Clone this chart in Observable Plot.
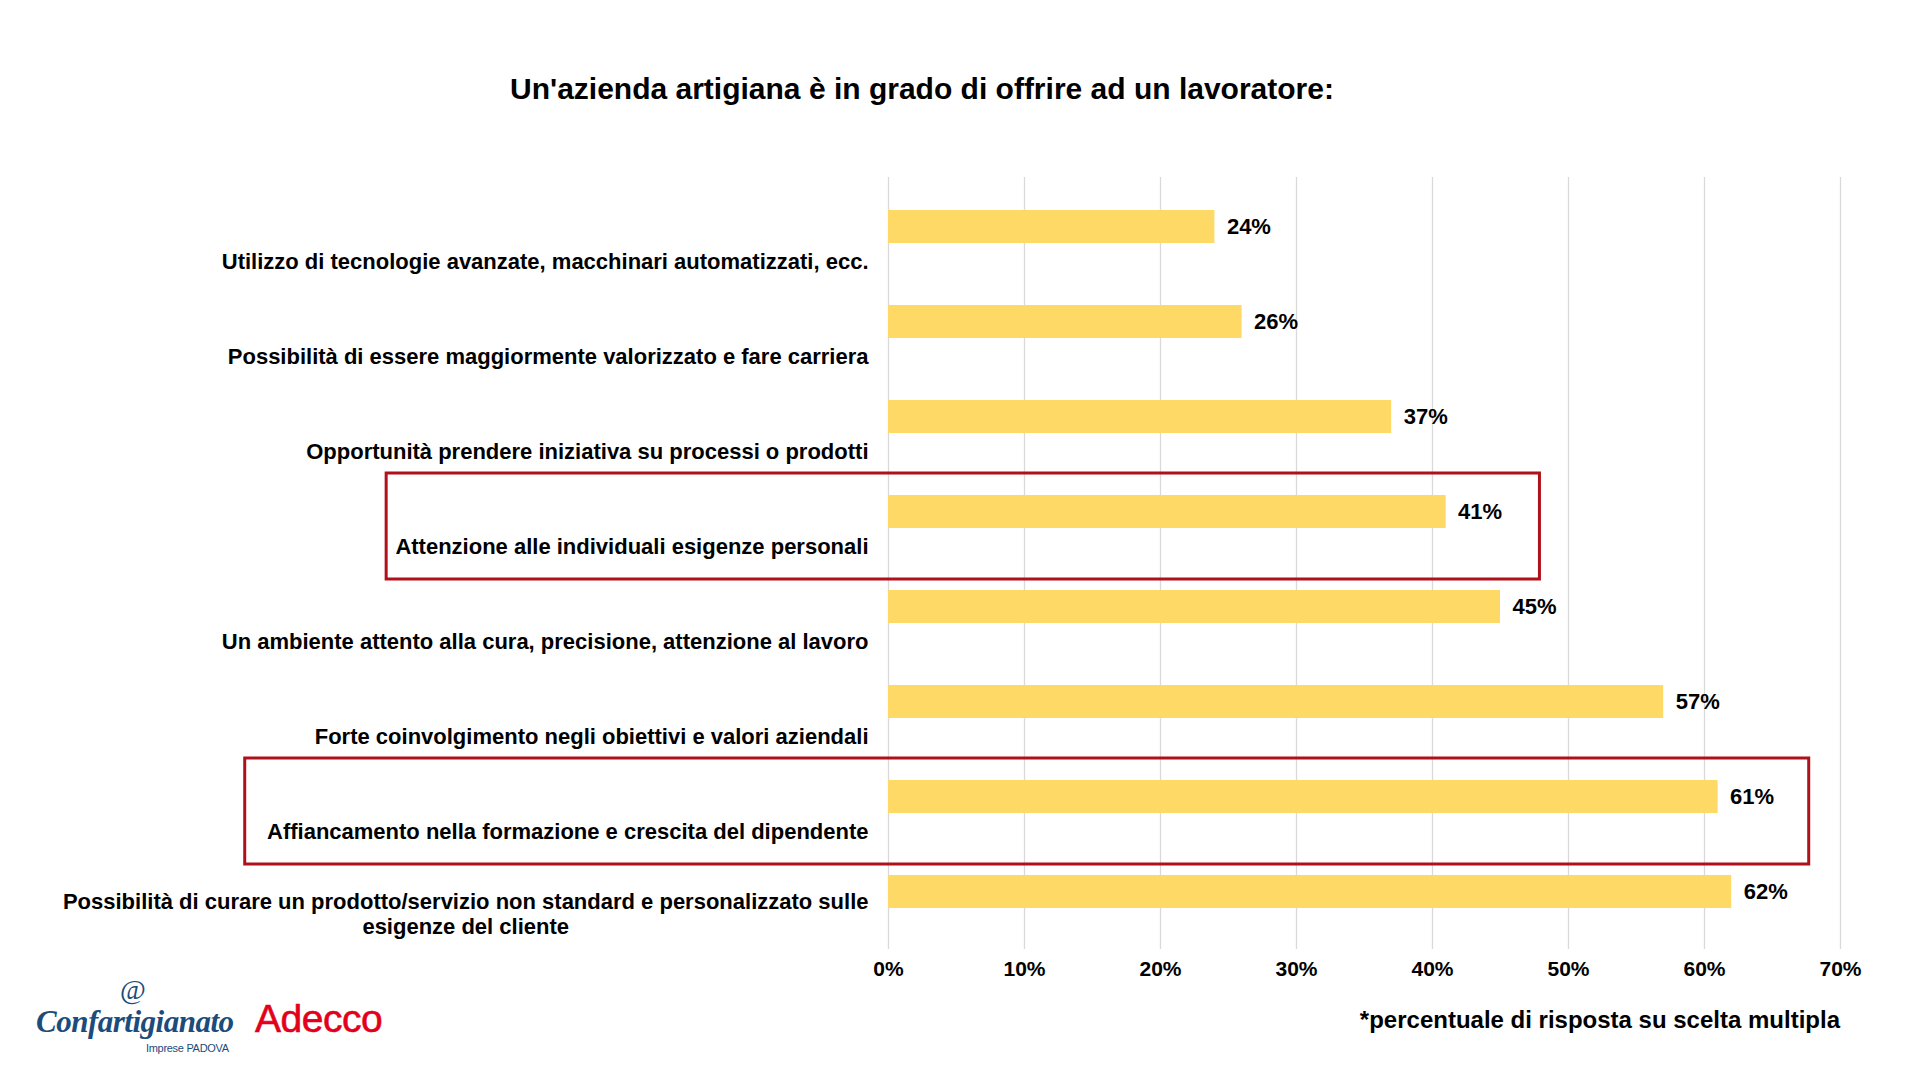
<!DOCTYPE html>
<html>
<head>
<meta charset="utf-8">
<script src="https://cdn.jsdelivr.net/npm/d3@7"></script>
<script src="https://cdn.jsdelivr.net/npm/@observablehq/plot@0.6"></script>
<style>
  body { margin: 0; background: #fff; }
  #wrap { position: relative; width: 1920px; height: 1080px; overflow: hidden; font-family: "Liberation Sans", Arial, sans-serif; color: #000; }
  #title { position: absolute; top: 72px; left: 0; width: 1844px; text-align: center; font-weight: bold; font-size: 30px; line-height: 34px; }
  #note { position: absolute; top: 1006px; right: 80px; font-weight: bold; font-size: 24px; line-height: 28px; }
  #chart { position: absolute; left: 0; top: 0; }
  .logo1 { position: absolute; left: 36px; top: 976px; width: 210px; height: 90px; color: #1b4c7c; }
  .logo1 .at { position: absolute; left: 84px; top: 0px; font-family: "Liberation Serif", serif; font-size: 28px; line-height: 28px; }
  .logo1 .name { position: absolute; left: 0; top: 30px; font-family: "Liberation Serif", serif; font-style: italic; font-weight: bold; font-size: 31px; line-height: 32px; letter-spacing: -0.5px; white-space: nowrap; }
  .logo1 .sub { position: absolute; left: 110px; top: 66px; font-size: 11px; line-height: 12px; letter-spacing: -0.3px; white-space: nowrap; }
  .logo2 { position: absolute; left: 255px; top: 998px; font-size: 39px; line-height: 42px; color: #e2001a; letter-spacing: -0.5px; -webkit-text-stroke: 0.6px #e2001a; }
</style>
</head>
<body>
<div id="wrap">
  <div id="title">Un'azienda artigiana è in grado di offrire ad un lavoratore:</div>
  <div id="chart"></div>
  <div id="note">*percentuale di risposta su scelta multipla</div>
  <div class="logo1"><span class="at">@</span><span class="name">Confartigianato</span><span class="sub">Imprese PADOVA</span></div>
  <div class="logo2">Adecco</div>
</div>
<script>
const categories = [
  "Utilizzo di tecnologie avanzate, macchinari automatizzati, ecc.",
  "Possibilità di essere maggiormente valorizzato e fare carriera",
  "Opportunità prendere iniziativa su processi o prodotti",
  "Attenzione alle individuali esigenze personali",
  "Un ambiente attento alla cura, precisione, attenzione al lavoro",
  "Forte coinvolgimento negli obiettivi e valori aziendali",
  "Affiancamento nella formazione e crescita del dipendente",
  "Possibilità di curare un prodotto/servizio non standard e personalizzato sulle\nesigenze del cliente"
];
const values = [0.24, 0.26, 0.37, 0.41, 0.45, 0.57, 0.61, 0.62];
const xTicks = [0, 0.1, 0.2, 0.3, 0.4, 0.5, 0.6, 0.7];
const highlightCategories = [categories[3], categories[6]];
const highlightFrom = [-0.369, -0.473];
const highlightTo = [0.479, 0.677];

const data = categories.map((c, i) => ({category: c, value: values[i]}));
const highlights = highlightCategories.map((c, i) => ({category: c, from: highlightFrom[i], to: highlightTo[i]}));
const pct = d3.format(".0%");

const plot = Plot.plot({
  width: 1920,
  height: 1080,
  marginTop: 176,
  marginBottom: 138,
  marginLeft: 888,
  marginRight: 80,
  style: {fontFamily: "'Liberation Sans', Arial, sans-serif", fontSize: "22px", fontWeight: "bold", color: "#000", background: "transparent", overflow: "visible"},
  x: {domain: [0, 0.7], label: null},
  y: {domain: categories, padding: 0, axis: null},
  marks: [
    Plot.ruleX(xTicks, {stroke: "#d9d9d9", strokeWidth: 1.3, insetTop: 1, insetBottom: -7}),
    Plot.barX(data, {x: "value", y: "category", fill: "#FFD966", insetTop: 31, insetBottom: 31}),
    Plot.text(data, {x: "value", y: "category", text: d => pct(d.value), dx: 12, textAnchor: "start", fill: "#000"}),
    Plot.text(data, {x: 0, y: "category", text: "category", textAnchor: "end", lineAnchor: "bottom", lineHeight: 1.12, dx: -20, dy: 42, fill: "#000", className: "catlabels"}),
    Plot.barX(highlights, {x1: "from", x2: "to", y: "category", fill: "none", stroke: "#b0101a", strokeWidth: 3, insetTop: 9, insetBottom: -20}),
    Plot.axisX({ticks: xTicks, tickFormat: pct, tickSize: 0, tickPadding: 19, label: null, fill: "#000", fontSize: 21})
  ]
});
document.getElementById("chart").appendChild(plot);

// center multi-line category labels on their longest line (as in the original)
plot.querySelectorAll(".catlabels text").forEach(t => {
  const spans = t.querySelectorAll("tspan");
  if (spans.length > 1) {
    let w = 0;
    spans.forEach(s => { w = Math.max(w, s.getComputedTextLength()); });
    t.setAttribute("text-anchor", "middle");
    t.setAttribute("transform", (t.getAttribute("transform") || "") + ` translate(${-w / 2},0)`);
  }
});
</script>
</body>
</html>
